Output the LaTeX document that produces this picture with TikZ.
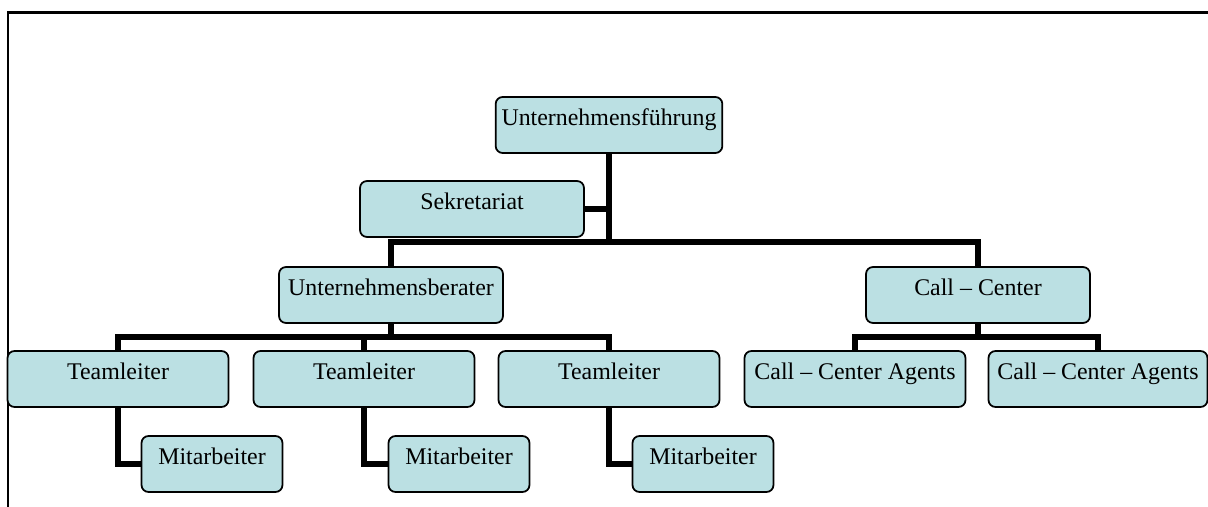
\documentclass[tikz,border=0pt]{standalone}
\usepackage{fontspec}
\setmainfont{Liberation Serif}
\usepackage{tikz}

\definecolor{orgfill}{RGB}{187,224,227}

\begin{document}
\begin{tikzpicture}[x=0.02cm, y=-0.02cm,
        orgbox/.style={draw, fill=orgfill, line width=1pt, rounded corners=0.14cm,
            minimum width=4.48cm, inner ysep=0pt, text height=0.56cm, text depth=0.56cm,
            font=\fontsize{13.6}{16}\selectfont},
        smallbox/.style={orgbox, minimum width=2.82cm},
        conn/.style={line width=0.105cm}]
        \useasboundingbox (0, 0) rectangle (1208, 507);
        \draw[line width=1.4pt] (8, 507) -- (8, 12.5) -- (1208, 12.5);

        \node[orgbox] (fuehrung) at (609, 125) {Unternehmensführung};
        \node[orgbox] (sekretariat) at (472, 209) {Sekretariat};
        \node[orgbox] (berater) at (391, 295) {Unternehmensberater};
        \node[orgbox] (callcenter) at (978, 295) {Call -- Center};

        \node[orgbox, minimum width=4.42cm] (team1) at (118, 379) {Teamleiter};
        \node[orgbox, minimum width=4.42cm] (team2) at (364, 379) {Teamleiter};
        \node[orgbox, minimum width=4.42cm] (team3) at (609, 379) {Teamleiter};
        \node[orgbox, minimum width=4.42cm] (agents1) at (855, 379) {Call -- Center Agents};
        \node[orgbox, minimum width=4.38cm] (agents2) at (1098, 379) {Call -- Center Agents};

        \node[smallbox] (mitarb1) at (212, 464) {Mitarbeiter};
        \node[smallbox] (mitarb2) at (459, 464) {Mitarbeiter};
        \node[smallbox] (mitarb3) at (703, 464) {Mitarbeiter};

        \coordinate (topbar) at (609, 242);
        \coordinate (berbar) at (391, 337);
        \coordinate (ccbar) at (978, 337);

        \draw[conn] (fuehrung.south) -- (topbar);
        \draw[conn] (sekretariat.east) -- (sekretariat.east -| topbar);
        \draw[conn] (berater.north) |- (topbar) -| (callcenter.north);

        \draw[conn] (berater.south) -- (berbar);
        \draw[conn] (team1.north) |- (berbar) -| (team3.north);
        \draw[conn] (team2.north) -- (team2.north |- berbar);

        \draw[conn] (callcenter.south) -- (ccbar);
        \draw[conn] (agents1.north) |- (ccbar) -| (agents2.north);

        \draw[conn] (team1.south) |- (mitarb1.west);
        \draw[conn] (team2.south) |- (mitarb2.west);
        \draw[conn] (team3.south) |- (mitarb3.west);
    \end{tikzpicture}
\end{document}
